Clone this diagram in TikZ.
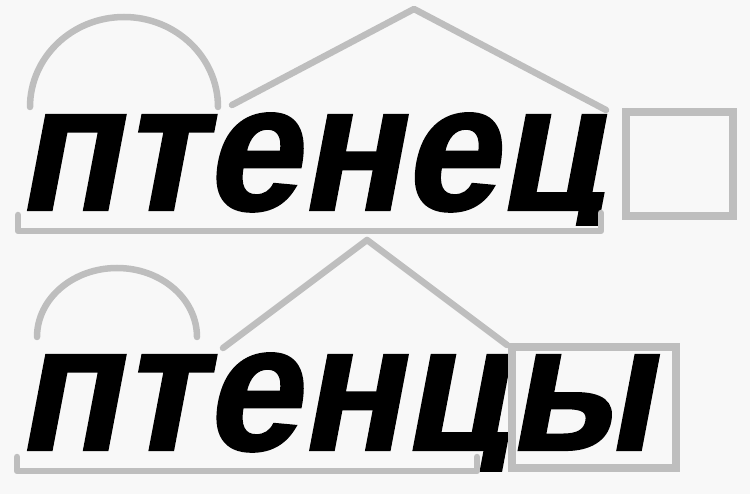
\documentclass[tikz,border=0pt]{standalone}
\usepackage{fontspec}
\newfontfamily\wordfont[FakeSlant=0.2, FakeBold=1.2]{Liberation Sans Bold}
\definecolor{mgray}{RGB}{190,190,190}
\definecolor{bgc}{RGB}{248,248,248}
\tikzset{
  mark line/.style={draw=mgray, line width=6.5pt, line cap=round, line join=round},
  box line/.style={draw=mgray, line width=7.5pt},
  word/.style={font=\fontsize{180}{190}\wordfont, inner sep=0pt, anchor=base west, text=black, xscale=0.95}
}
\begin{document}
\begin{tikzpicture}[x=1pt,y=-1pt]
\fill[bgc] (0,0) rectangle (750,494);
\useasboundingbox (0,0) rectangle (750,494);
% word 1
\begin{scope}
\clip (0,0) rectangle (750,226);
\node[word] (w1) at (16,210) {птенец};
\end{scope}
\draw[mark line] (30,107) arc[start angle=180, end angle=360, x radius=94, y radius=90];
\draw[mark line] (232,105) -- (414,9) -- (606,110);
\draw[mark line] (18,215) -- (18,231) -- (601,231) -- (601,213);
\draw[box line] (626,112) rectangle (733,216);
% word 2
\begin{scope}
\clip (0,236) rectangle (750,471);
\node[word] (w2) at (16,450) {птенцы};
\end{scope}
\draw[mark line] (37,337) arc[start angle=180, end angle=360, x radius=80, y radius=69];
\draw[mark line] (223,348) -- (367,240) -- (507,345);
\draw[mark line] (17,457) -- (17,471) -- (477,471) -- (477,457);
\draw[box line] (512,347) rectangle (676,468);
\end{tikzpicture}
\end{document}
